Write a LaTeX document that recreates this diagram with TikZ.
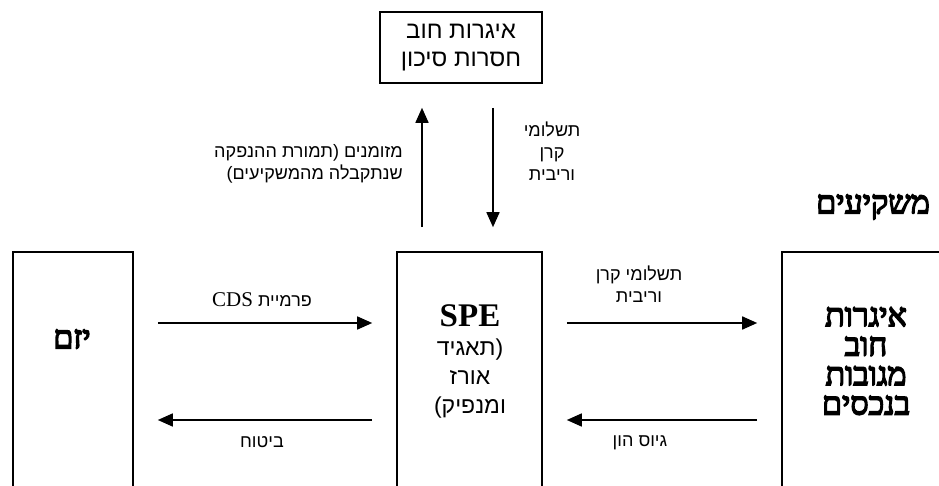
\documentclass[tikz,border=0pt]{standalone}
\usepackage{fontspec}
\setmainfont{Liberation Serif}
\newfontfamily\hebsans[Script=Hebrew]{Liberation Sans}
\newfontfamily\hebbold[Script=Hebrew]{Liberation Serif}
\TeXXeTstate=1
\usetikzlibrary{arrows.meta}
\newcommand{\heb}[1]{\beginR #1\endR}
\newcommand{\heavy}[1]{\special{pdf:literal direct 2 Tr 1.5 w}\beginR #1\endR\special{pdf:literal direct 0 Tr}}

\begin{document}
\begin{tikzpicture}[x=1pt,y=-1pt,
  box/.style={draw=black,line width=1.6pt,inner sep=0pt},
  arr/.style={draw=black,line width=1.6pt,-{Triangle[length=15pt,width=13pt]},shorten <=24pt,shorten >=24pt},
  lbl/.style={font=\hebsans\fontsize{18}{22}\selectfont,align=center,inner sep=0pt},
  big/.style={font=\hebsans\fontsize{23}{29}\selectfont,align=center,inner sep=0pt},
  bold/.style={font=\hebbold\fontsize{32}{29.5}\selectfont,align=center,inner sep=0pt}]
\useasboundingbox (0,0) rectangle (939,486);
\clip (0,0) rectangle (939,486);
\node [box,minimum width=162pt,minimum height=71pt,font=\hebsans\fontsize{24}{28}\selectfont,align=center] (topbox) at (461,47.5) {\heb{איגרות חוב}\\\heb{חסרות סיכון}};
\node [box,minimum width=120pt,minimum height=250pt] (yazam) at (73,377) {};
\node [box,minimum width=145pt,minimum height=250pt] (spe) at (469.5,377) {};
\node [box,minimum width=190pt,minimum height=250pt] (invest) at (877,377) {};
\coordinate (upper) at (0,323);
\coordinate (lower) at (0,420);
\coordinate (cashx) at (422,0);
\coordinate (payx) at (493,0);
\draw [arr] (spe.north -| cashx) -- (topbox.south -| cashx);
\draw [arr] (topbox.south -| payx) -- (spe.north -| payx);
\draw [arr] (yazam.east |- upper) -- (spe.west |- upper);
\draw [arr] (spe.west |- lower) -- (yazam.east |- lower);
\draw [arr] (spe.east |- upper) -- (invest.west |- upper);
\draw [arr] (invest.west |- lower) -- (spe.east |- lower);
\node [lbl,align=right,anchor=east] (cashlbl) at (403,163.5) {\heb{מזומנים (תמורת ההנפקה}\\\heb{שנתקבלה מהמשקיעים)}};
\node [lbl] (paylbl) at (552,151) {\heb{תשלומי}\\\heb{קרן}\\\heb{וריבית}};
\node [lbl] (premlbl) at (262,300) {\heb{פרמיית \beginL\rmfamily\fontsize{21}{22}\selectfont CDS\endL}};
\node [lbl] (inslbl) at (262,442) {\heb{ביטוח}};
\node [lbl] (paylbl2) at (639,284) {\heb{תשלומי קרן}\\\heb{וריבית}};
\node [lbl] (raiselbl) at (640,443) {\heb{גיוס הון}};
\node [bold] (yazamlbl) at (72,339) {\heavy{יזם}};
\node [big] (spelbl) at (470,361) {{\rmfamily\bfseries\fontsize{33}{31}\selectfont SPE}\\\heb{(תאגיד}\\\heb{אורז}\\\heb{ומנפיק)}};
\node [bold] (investlbl) at (866,361) {\heavy{איגרות}\\\heavy{חוב}\\\heavy{מגובות}\\\heavy{בנכסים}};
\node [bold] (investtitle) at (873,207) {\heavy{משקיעים}};
\end{tikzpicture}
\end{document}
